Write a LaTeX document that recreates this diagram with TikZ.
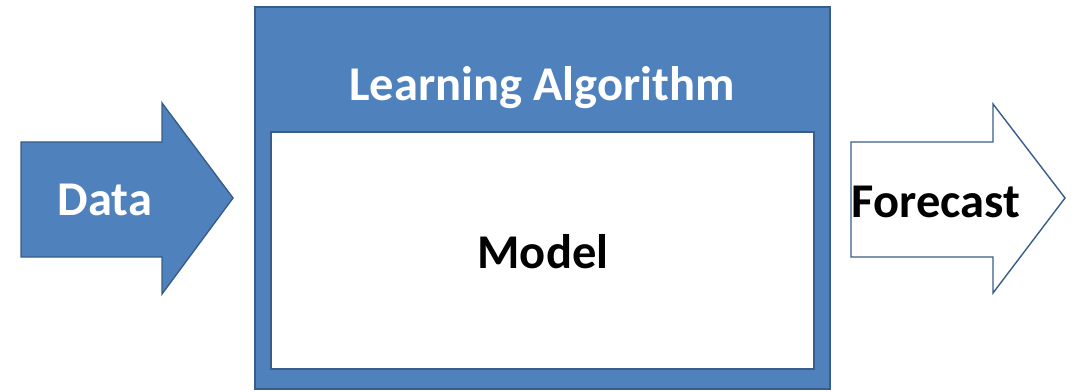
\documentclass[tikz,border=0pt]{standalone}
\usepackage{fontspec}
\setmainfont{Carlito}
\usetikzlibrary{positioning, calc}
\definecolor{offblue}{RGB}{79,129,189}
\definecolor{offdark}{RGB}{56,93,138}

\begin{document}
\begin{tikzpicture}[
    box/.style={rectangle, draw=offdark, line width=0.8pt, inner sep=0pt},
    bigarr/.style={draw=offdark, line width=0.8pt, line join=miter},
    lbl/.style={font=\fontsize{27.6}{32}\selectfont\bfseries, inner sep=0pt, anchor=base}
]
\useasboundingbox (0,0) rectangle (21.54,7.82);

% outer algorithm box and the model inside it
\node[box, fill=offblue, minimum width=11.5cm, minimum height=7.64cm] (algo) at (10.85,3.86) {};
\node[box, fill=white, minimum width=10.86cm, minimum height=4.74cm] (model) at (10.85,2.81) {};

% input arrow
\draw[bigarr, fill=offblue] (0.42,4.98) -- (3.24,4.98) -- (3.24,5.76) -- (4.66,3.86)
    -- (3.24,1.94) -- (3.24,2.68) -- (0.42,2.68) -- cycle;
% output arrow
\draw[bigarr, fill=white] (17.02,4.98) -- (19.86,4.98) -- (19.86,5.74) -- (21.30,3.86)
    -- (19.86,1.96) -- (19.86,2.68) -- (17.02,2.68) -- cycle;

\node[lbl, text=white] (algolbl) at (10.84,5.80) {Learning Algorithm};
\node[lbl] (modellbl) at (10.86,2.46) {Model};
\node[lbl, text=white] (datalbl) at (2.10,3.50) {Data};
\node[lbl] (fclbl) at (18.72,3.46) {Forecast};
\end{tikzpicture}
\end{document}
